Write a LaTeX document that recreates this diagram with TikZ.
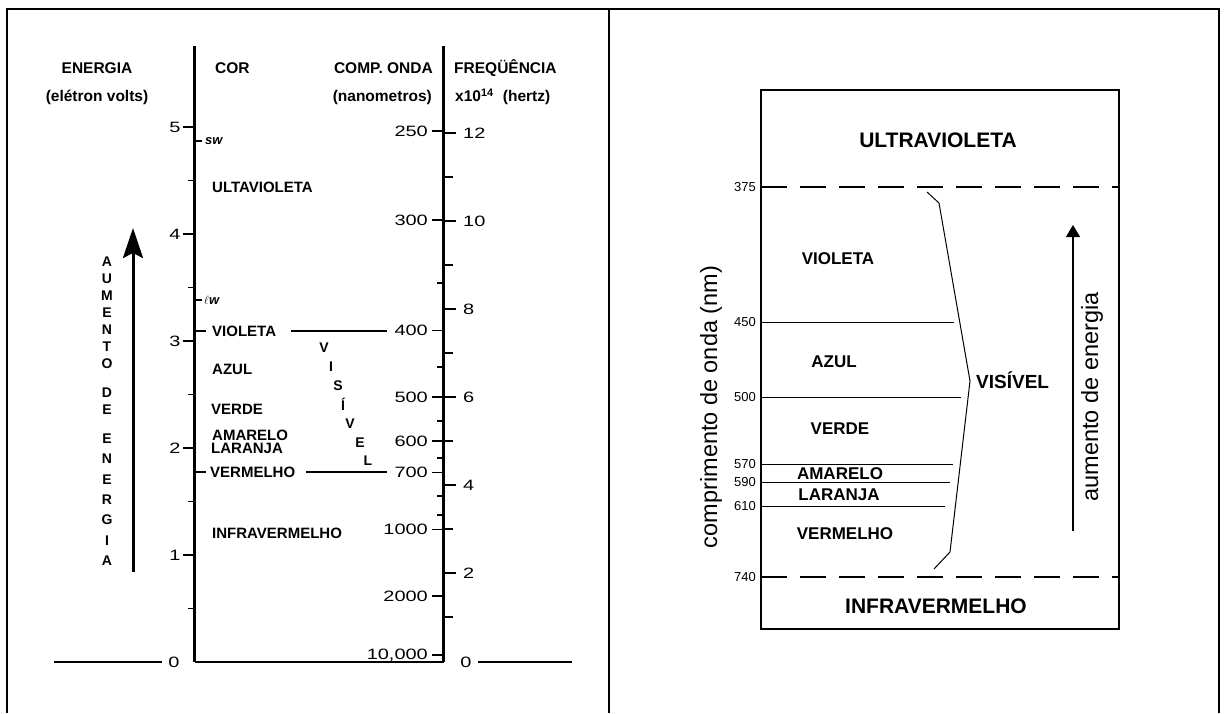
\documentclass[tikz,border=0pt]{standalone}
\usepackage{fontspec}
\setmainfont{Liberation Sans}
\newfontfamily\widenum[FakeStretch=1.33]{Liberation Sans}
\usetikzlibrary{arrows.meta}
\begin{document}
\begin{tikzpicture}[x=1pt,y=-1pt,
 ax/.style={line width=3pt},
 tk/.style={line width=1.8pt},
 hdr/.style={font=\fontsize{15.5}{15.5}\selectfont\bfseries,inner sep=0pt},
 lbl/.style={font=\fontsize{15}{15}\selectfont\bfseries,inner sep=0pt,anchor=west},
 num/.style={font=\widenum\fontsize{15}{15}\selectfont,inner sep=0pt},
 vl/.style={font=\fontsize{14}{14}\selectfont\bfseries,inner sep=0pt},
 ltr/.style={font=\fontsize{14}{14}\selectfont\bfseries,inner sep=0pt},
 sm/.style={font=\fontsize{13}{13}\selectfont\bfseries\itshape,inner sep=0pt,anchor=west},
 rl/.style={font=\fontsize{17}{17}\selectfont\bfseries,inner sep=0pt},
 big/.style={font=\fontsize{21}{21}\selectfont\bfseries,inner sep=0pt},
 rn/.style={font=\fontsize{13}{13}\selectfont,inner sep=0pt,anchor=east},
 rot/.style={font=\fontsize{23.5}{23.5}\selectfont,inner sep=0pt,rotate=90},
 dsh/.style={line width=1.2pt,dash pattern=on 26pt off 13pt},
 thn/.style={line width=1pt}]
\useasboundingbox (0,0) rectangle (1226,713);
\fill[white] (0,0) rectangle (1226,713);
% frame
\coordinate (FL) at (7,713); \coordinate (FTL) at (7,9);
\coordinate (FTR) at (1219,9); \coordinate (FR) at (1219,713);
\coordinate (DT) at (609,9); \coordinate (DB) at (609,713);
\draw[line width=2pt] (FL) -- (FTL) -- (FTR) -- (FR);
\draw[line width=2pt] (DT) -- (DB);

% ===== left panel headers
\node[hdr] (h1) at (97,68) {ENERGIA};
\node[hdr] (h2) at (97,97) {(elétron volts)};
\node[hdr,anchor=west] (h3) at (215,68) {COR};
\node[hdr,anchor=east] (h4) at (433,68) {COMP. ONDA};
\node[hdr,anchor=east] (h5) at (432,97) {(nanometros)};
\node[hdr,anchor=west] (h6) at (454,68) {FREQÜÊNCIA};
\node[hdr,anchor=west] (h7) at (455,97) {x10\textsuperscript{14}\hspace{0.6em}(hertz)};

% axes
\coordinate (Etop) at (194.5,46); \coordinate (E0) at (194.5,662);
\coordinate (Ftop) at (443.5,46); \coordinate (F0) at (443.5,662);
\draw[ax] (Etop) -- (E0);
\draw[ax] (Ftop) -- (F0);
\draw[line width=2.5pt] (E0) -- (F0);
\node[num] (e0) at (174,662) {0};
\coordinate (L1) at (54,662);
\draw[line width=2.5pt] (L1) -- ([xshift=-6pt]e0.west);
\node[num] (f0) at (466,662) {0};
\coordinate (R1) at (572,662);
\draw[line width=2.5pt] ([xshift=6pt]f0.east) -- (R1);

% energy ticks
\foreach \e in {1,...,5} {
  \draw[tk] (183,{662-107*\e}) -- (194.5,{662-107*\e});
  \node[num] (e\e) at (175,{662-107*\e}) {\e};
}
\foreach \e in {0.5,1.5,2.5,3.5,4.5}
  \draw[tk] (188,{662-107*\e}) -- (194.5,{662-107*\e});

% wavelength ticks (left of frequency axis)
\foreach \t/\y in {250/131,300/220,400/330.5,500/397,600/441,700/472.5,1000/529.5,2000/596,{10,000}/655} {
  \draw[tk] (432,\y) -- (443.5,\y);
  \node[num,anchor=east] at (428,\y) {\t};
}
\foreach \y in {283,367,421,458,496,515}
  \draw[tk] (437,\y) -- (443.5,\y);
% frequency ticks (right)
\foreach \t/\y in {12/133,10/221,8/309,6/397,4/485,2/573} {
  \draw[tk] (443.5,\y) -- (456,\y);
  \node[num,anchor=west] at (463,\y) {\t};
}
\foreach \y in {177,265,353,441,529,617}
  \draw[tk] (443.5,\y) -- (453,\y);

% special energy marks
\draw[tk] (194.5,141) -- (202,141);
\node[sm] (sw) at (205,141) {sw};
\draw[tk] (194.5,300) -- (202,300);
\node[sm] (lw) at (204,300) {$\ell$w};

% colour labels
\node[lbl] (uv) at (212,187) {ULTAVIOLETA};
\node[lbl] (vio) at (212,331) {VIOLETA};
\node[lbl] (azu) at (212,369) {AZUL};
\node[lbl] (ver) at (211,409) {VERDE};
\node[lbl] (ama) at (212,435) {AMARELO};
\node[lbl] (lar) at (211,448) {LARANJA};
\node[lbl] (vrm) at (210,472) {VERMELHO};
\node[lbl] (ir) at (212,533) {INFRAVERMELHO};
\draw[tk] (194.5,331) -- (206,331);
\draw[tk] (194.5,472) -- (206,472);
\coordinate (v1) at (291,331); \coordinate (v2) at (387,331);
\draw[line width=2pt] (v1) -- (v2);
\coordinate (r1) at (306,472); \coordinate (r2) at (387,472);
\draw[line width=2pt] (r1) -- (r2);

% VISIVEL diagonal
\foreach \c/\x/\y in {V/324/348,I/331/367,S/338/386,Í/343/404,V/350/424,E/360/443,L/368/461}
  \node[vl] at (\x,\y) {\c};

% aumento de energia arrow
\coordinate (ab) at (133,572); \coordinate (at) at (133,228);
\draw[line width=3pt,-{Stealth[length=30pt,width=20pt,inset=5pt]}] (ab) -- (at);
\foreach \c/\y in {A/262,U/279,M/296,E/313,N/330,T/347,O/364,D/393,E/410,E/439,N/459,E/480,R/500,G/520,I/541,A/561}
  \node[ltr] at (107,\y) {\c};

% ===== right panel
\coordinate (B1) at (761,90); \coordinate (B2) at (1119,629);
\draw[line width=2pt] (B1) rectangle (B2);
\node[big] (uvr) at (938,140) {ULTRAVIOLETA};
\node[big] (irr) at (936,606) {INFRAVERMELHO};
\coordinate (d1a) at (761,187); \coordinate (d1b) at (1119,187);
\coordinate (d2a) at (761,577); \coordinate (d2b) at (1119,577);
\draw[dsh] (d1a) -- (d1b);
\draw[dsh] (d2a) -- (d2b);
\foreach \t/\y/\xe in {450/322/954,500/397/961,570/464/953,590/482/950,610/506/945}
  \draw[thn] (761,\y) -- (\xe,\y);
\foreach \t/\y in {375/187,450/322,500/397,570/464,590/482,610/506,740/577}
  \node[rn] at (756,\y) {\t};
\node[rl] (rvio) at (838,259) {VIOLETA};
\node[rl] (razu) at (834,362) {AZUL};
\node[rl] (rver) at (840,429) {VERDE};
\node[rl] (rama) at (840,474) {AMARELO};
\node[rl] (rlar) at (839,495) {LARANJA};
\node[rl] (rvrm) at (845,534) {VERMELHO};
\node[rl,anchor=west,font=\fontsize{19}{19}\selectfont\bfseries] (vis) at (976,380) {VISÍVEL};
\coordinate (k1) at (927,192); \coordinate (k2) at (939,203); \coordinate (k3) at (970,381);
\coordinate (k4) at (950,552); \coordinate (k5) at (934,569);
\draw[thn] (k1) -- (k2) -- (k3) -- (k4) -- (k5);
\coordinate (ra) at (1073,531); \coordinate (rb) at (1073,225);
\draw[line width=1.2pt,-{Triangle[length=12pt,width=14pt]}] (ra) -- (rb);
\node[rot] (comp) at (711,407) {comprimento de onda (nm)};
\node[rot] (aum) at (1092,397) {aumento de energia};
\end{tikzpicture}
\end{document}
